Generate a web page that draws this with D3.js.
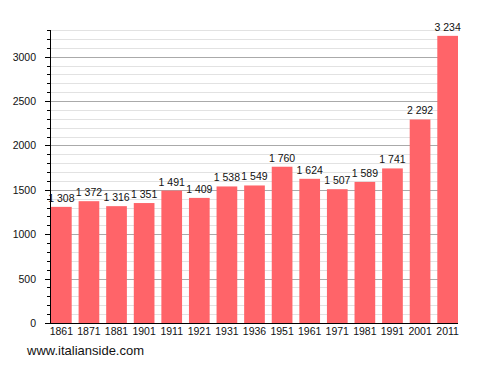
<!DOCTYPE html>
<html>
<head>
<meta charset="utf-8">
<script src="https://cdn.jsdelivr.net/npm/d3@7"></script>
<style>
  body { margin: 0; background: #fff; }
  text { font-family: "Liberation Sans", Arial, sans-serif; fill: #111; }
</style>
</head>
<body>
<div id="chart"></div>
<script>
// census years and population
const years = ["1861","1871","1881","1901","1911","1921","1931","1936","1951","1961","1971","1981","1991","2001","2011"];
const population = [1308,1372,1316,1351,1491,1409,1538,1549,1760,1624,1507,1589,1741,2292,3234];
const majorTicks = [0,500,1000,1500,2000,2500,3000];

const width = 488, height = 373;
const mLeft = 50, mRight = 458, mTop = 30, mBottom = 323;

const svg = d3.select("#chart").append("svg")
  .attr("width", width)
  .attr("height", height);

const x = d3.scaleBand()
  .domain(years)
  .range([51, 458])
  .paddingInner(0.25)
  .paddingOuter(0);

const y = d3.scaleLinear()
  .domain([0, 3300])
  .range([mBottom, mTop]);

const minor = d3.range(0, 3301, 100);

// grid lines
svg.append("g").selectAll("line")
  .data(minor)
  .enter().append("line")
  .attr("x1", mLeft).attr("x2", mRight)
  .attr("y1", d => Math.round(y(d)) + 0.5)
  .attr("y2", d => Math.round(y(d)) + 0.5)
  .attr("stroke", d => d % 500 === 0 ? "#aaa" : "#e2e2e2")
  .attr("stroke-width", 1);

// bars
svg.append("g").selectAll("rect")
  .data(population)
  .enter().append("rect")
  .attr("x", (d, i) => x(years[i]))
  .attr("width", x.bandwidth())
  .attr("y", d => y(d))
  .attr("height", d => mBottom - y(d))
  .attr("fill", "#ff6469");

// value labels
const fmt = d3.formatLocale({decimal: ",", thousands: " ", grouping: [3], currency: ["", ""]}).format(",");
svg.append("g").selectAll("text")
  .data(population)
  .enter().append("text")
  .attr("x", (d, i) => x(years[i]) + x.bandwidth() / 2)
  .attr("y", d => y(d) - 5)
  .attr("text-anchor", "middle")
  .attr("font-size", 10.5)
  .text(d => fmt(d));

// y axis
svg.append("line")
  .attr("x1", mLeft + 0.5).attr("x2", mLeft + 0.5)
  .attr("y1", mTop).attr("y2", mBottom)
  .attr("stroke", "#000");

svg.append("g").selectAll("line")
  .data(minor)
  .enter().append("line")
  .attr("x1", d => d % 500 === 0 ? 45 : 47).attr("x2", mLeft)
  .attr("y1", d => Math.round(y(d)) + 0.5)
  .attr("y2", d => Math.round(y(d)) + 0.5)
  .attr("stroke", "#000");

svg.append("g").selectAll("text")
  .data(majorTicks)
  .enter().append("text")
  .attr("x", 36)
  .attr("y", d => y(d) + 4)
  .attr("text-anchor", "end")
  .attr("font-size", 10.5)
  .text(d => d);

// x axis
svg.append("line")
  .attr("x1", mLeft).attr("x2", mRight)
  .attr("y1", mBottom + 0.5).attr("y2", mBottom + 0.5)
  .attr("stroke", "#000");

svg.append("g").selectAll("text")
  .data(years)
  .enter().append("text")
  .attr("x", d => x(d) + x.bandwidth() / 2)
  .attr("y", 335)
  .attr("text-anchor", "middle")
  .attr("font-size", 10.5)
  .text(d => d);

svg.append("text")
  .attr("x", 27)
  .attr("y", 355)
  .attr("font-size", 13)
  .text("www.italianside.com");
</script>
</body>
</html>
